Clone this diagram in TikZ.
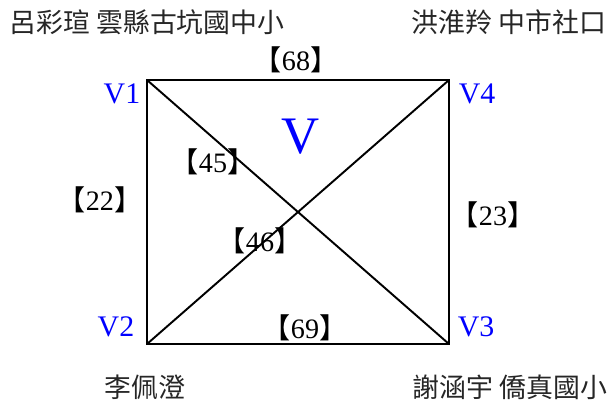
\documentclass[tikz,border=0pt]{standalone}
\usepackage{fontspec}
\setmainfont{Liberation Serif}
\newfontfamily\cjk{Noto Sans CJK TC}
\usetikzlibrary{positioning}

\newcommand{\wlab}[1]{{\cjk 【}#1{\cjk 】}}

\begin{document}
\begin{tikzpicture}[
        x=0.02cm,
        y=-0.02cm,
        every node/.style={
            inner sep=0pt,
            align=center
        },
        person/.style={
            font=\cjk\fontsize{15.3}{17}\selectfont,
            text=black!85
        },
        vname/.style={
            font=\fontsize{17}{19}\selectfont,
            text=blue
        },
        weight/.style={
            font=\fontsize{16}{18}\selectfont
        },
        link/.style={
            line width=1.1pt,
            line join=miter
        }
    ]

    \useasboundingbox (0,0) rectangle (609,403);

    % Vertices

    \coordinate (v1) at (147,80);
    \coordinate (v4) at (449,80);
    \coordinate (v2) at (147,344);
    \coordinate (v3) at (449,344);

    \node[vname] (v1name) at (122,94) {V1};
    \node[vname] (v4name) at (477,94) {V4};
    \node[vname] (v2name) at (116,327) {V2};
    \node[vname] (v3name) at (476,327) {V3};

    \node[vname, font=\fontsize{30}{32}\selectfont] (graph) at (301,137) {V};

    % Names

    \node[person] (p1) at (147,22) {呂彩瑄 雲縣古坑國中小};
    \node[person] (p4) at (509,22) {洪淮羚 中市社口};
    \node[person] (p2) at (145,387) {李佩澄};
    \node[person] (p3) at (510,387) {謝涵宇 僑真國小};

    % Edges

    \draw[link] (v1) -- (v4) -- (v3) -- (v2) -- cycle;
    \draw[link] (v1) -- (v3);
    \draw[link] (v2) -- (v4);

    % Weights

    \node[weight] (w14) at (296,60) {\wlab{68}};
    \node[weight] (w13) at (213,162) {\wlab{45}};
    \node[weight] (w12) at (100,200) {\wlab{22}};
    \node[weight] (w43) at (493,215) {\wlab{23}};
    \node[weight] (w24) at (260,241) {\wlab{46}};
    \node[weight] (w23) at (305,328) {\wlab{69}};

\end{tikzpicture}
\end{document}
